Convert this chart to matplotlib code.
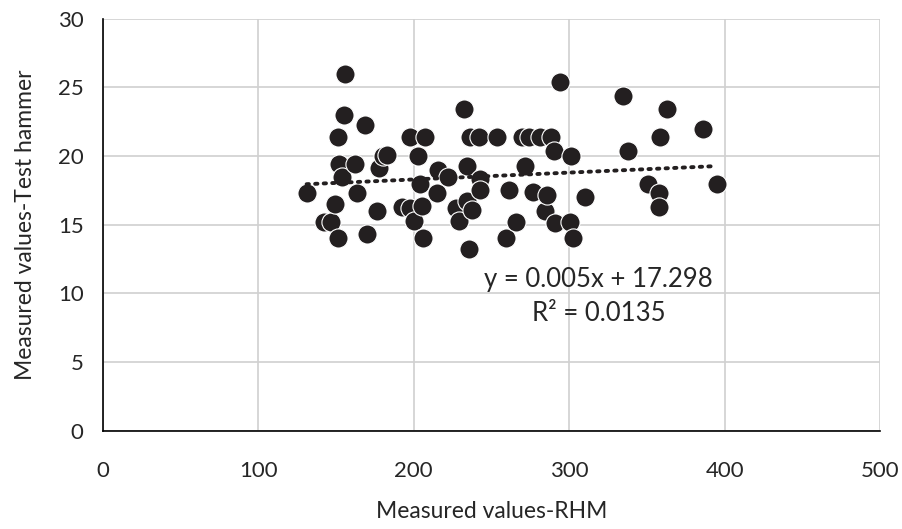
import matplotlib.pyplot as plt
import numpy as np

plt.rcParams['font.family'] = ['Lato', 'DejaVu Sans']

# data
rhm = [131, 142, 147, 149.5, 151.5, 151.2, 151.6, 153.8, 154.8, 155.9,
       162.3, 163.6, 168.8, 169.8, 176.5, 177.5, 180.5, 182.7, 192.4, 197.5,
       197.7, 199.9, 203, 204.2, 205, 205.9, 207.4, 214.9, 215.6, 221.8,
       227, 228.9, 232, 234.5, 235.5, 236.4, 234, 237.5, 241.7, 242.8,
       242.8, 253.6, 259.3, 261, 265.6, 269.7, 274, 271.8, 276.8, 281.5,
       288.3, 284.7, 285.8, 290.5, 290.9, 294.4, 300.8, 301.2, 302.5, 310,
       334.5, 338, 351, 358, 357.5, 358.5, 363, 386, 395]
hammer = [17.3, 15.2, 15.2, 16.5, 14.0, 21.4, 19.4, 18.5, 23.0, 26.0,
          19.4, 17.3, 22.3, 14.3, 16.0, 19.1, 20.0, 20.1, 16.3, 16.2,
          21.4, 15.3, 20.0, 18.0, 16.4, 14.0, 21.4, 17.3, 19.0, 18.5,
          16.2, 15.3, 23.4, 19.3, 13.2, 21.4, 16.7, 16.1, 21.4, 18.3,
          17.5, 21.4, 14.0, 17.5, 15.2, 21.4, 21.4, 19.3, 17.35, 21.4,
          21.4, 16.0, 17.2, 20.4, 15.1, 25.4, 15.2, 20.0, 14.0, 17.0,
          24.4, 20.4, 18.0, 17.3, 16.3, 21.4, 23.4, 22.0, 18.0]

slope = 0.005
intercept = 17.298
r2 = 0.0135

fig = plt.figure(figsize=(9.02, 5.29), dpi=100)
ax = fig.add_axes([0.1142, 0.1858, 0.8614, 0.7787])

ax.scatter(rhm, hammer, s=190, color='#231f20', edgecolors='white',
           linewidths=0.8, zorder=3)

# linear trendline
xs = np.array([min(rhm), max(rhm)])
ax.plot(xs, slope * xs + intercept, color='#231f20', linestyle=(0, (0.6, 1.6)),
        linewidth=2.8, dash_capstyle='round', zorder=4)

ax.text(319, 11.0, 'y = 0.005x + 17.298', ha='center', va='center',
        fontsize=18.5, color='#262626', zorder=5)
ax.text(319, 8.5, 'R² = 0.0135', ha='center', va='center',
        fontsize=18.5, color='#262626', zorder=5)

ax.set_xlim(0, 500)
ax.set_ylim(0, 30)
ax.set_xticks(range(0, 501, 100))
ax.set_yticks(range(0, 31, 5))
ax.grid(True, color='#d0d0d0', linewidth=1.2)
ax.set_axisbelow(True)
for side in ['top', 'right']:
    ax.spines[side].set_visible(False)
for side in ['left', 'bottom']:
    ax.spines[side].set_color('black')
    ax.spines[side].set_linewidth(1.2)
ax.tick_params(length=0, labelsize=16, colors='#262626')
ax.tick_params(axis='x', pad=22)
ax.tick_params(axis='y', pad=14)

ax.set_xlabel('Measured values-RHM', fontsize=16.5, color='#262626', labelpad=14)
ax.set_ylabel('Measured values-Test hammer', fontsize=16.5, color='#262626', labelpad=16)

plt.savefig('out.png', dpi=100)
plt.close()
